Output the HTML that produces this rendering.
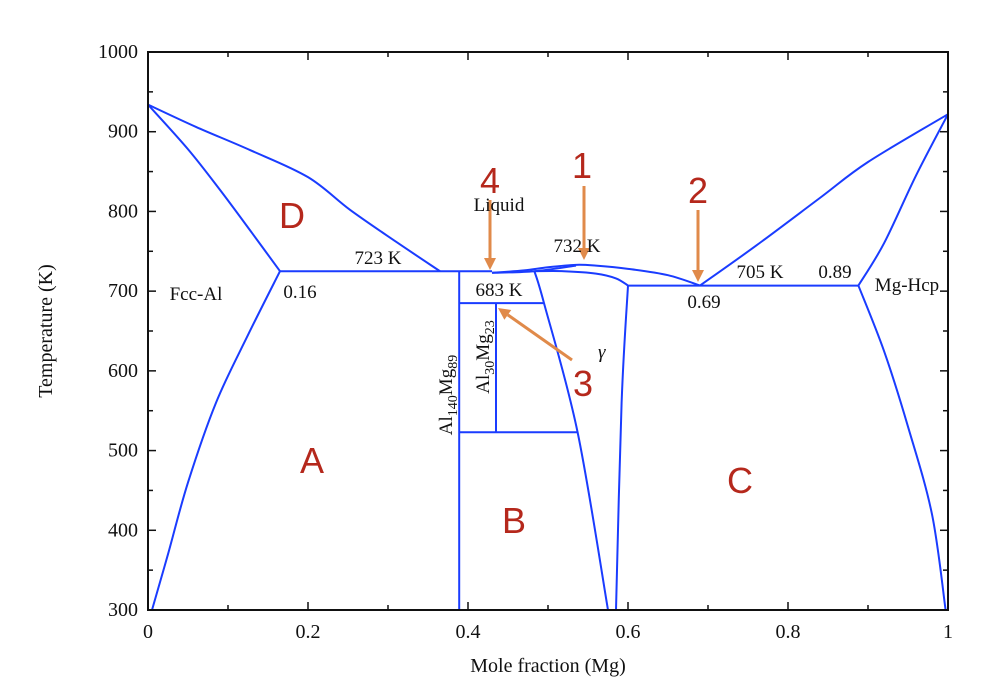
<!DOCTYPE html>
<html><head><meta charset="utf-8"><style>
body{margin:0;background:#fff}
svg{display:block;font-family:"Liberation Serif",serif}
.t{font-size:19px;fill:#111}
.r{font-family:"Liberation Sans",sans-serif;font-size:36px;fill:#b5281c}
</style></head><body>
<svg width="998" height="698" id="s">
<g id="curves" fill="none" stroke="#1a3cff" stroke-width="2"></g>
<g id="axes"></g>
<g id="arrows" stroke="#e08a4a" stroke-width="3" fill="#e08a4a"></g>
<text class="t" x="499" y="211" text-anchor="middle">Liquid</text>
<text class="t" x="378" y="264" text-anchor="middle">723 K</text>
<text class="t" x="300" y="298" text-anchor="middle">0.16</text>
<text class="t" x="196" y="300" text-anchor="middle">Fcc-Al</text>
<text class="t" x="577" y="252" text-anchor="middle">732 K</text>
<text class="t" x="499" y="296" text-anchor="middle">683 K</text>
<text class="t" x="760" y="278" text-anchor="middle">705 K</text>
<text class="t" x="835" y="278" text-anchor="middle">0.89</text>
<text class="t" x="704" y="308" text-anchor="middle">0.69</text>
<text class="t" x="907" y="291" text-anchor="middle">Mg-Hcp</text>
<text class="t" x="598" y="358" font-style="italic">γ</text>
<text class="t" transform="translate(452,395) rotate(-90)" text-anchor="middle">Al<tspan font-size="14" dy="5">140</tspan><tspan dy="-5">Mg</tspan><tspan font-size="14" dy="5">89</tspan></text>
<text class="t" transform="translate(489,357) rotate(-90)" text-anchor="middle">Al<tspan font-size="14" dy="5">30</tspan><tspan dy="-5">Mg</tspan><tspan font-size="14" dy="5">23</tspan></text>
<text class="r" x="292" y="228" text-anchor="middle">D</text>
<text class="r" x="312" y="473" text-anchor="middle">A</text>
<text class="r" x="514" y="533" text-anchor="middle">B</text>
<text class="r" x="740" y="493" text-anchor="middle">C</text>
<text class="r" x="490" y="193" text-anchor="middle">4</text>
<text class="r" x="582" y="178" text-anchor="middle">1</text>
<text class="r" x="698" y="203" text-anchor="middle">2</text>
<text class="r" x="583" y="396" text-anchor="middle">3</text>
<text x="548" y="672" text-anchor="middle" font-size="20" fill="#111">Mole fraction (Mg)</text>
<text transform="translate(52,331) rotate(-90)" text-anchor="middle" font-size="20" fill="#111">Temperature (K)</text>
</svg>
<script>
const xTicks=[0,0.2,0.4,0.6,0.8,1];
const xTickLabels=["0","0.2","0.4","0.6","0.8","1"];
const yTicks=[300,400,500,600,700,800,900,1000];
const liquidusLeft=[[0,934],[0.06,906],[0.1275,877],[0.2,843],[0.2525,802],[0.31,762],[0.365,725]];
const solidusLeft=[[0,934],[0.05,878],[0.09,827],[0.13,773],[0.165,725]];
const solvusLeft=[[0.165,725],[0.125,645],[0.085,560],[0.05,460],[0.025,370],[0.005,300]];
const eutectic723=[[0.165,725],[0.43,725]];
const liquidusMid=[[0.43,723],[0.47,726],[0.5,730],[0.535,733],[0.56,732],[0.6,728],[0.65,720],[0.69,707]];
const gammaTop=[[0.43,723],[0.483,725],[0.535,732]];
const gammaSolidusR=[[0.483,725],[0.52,725],[0.56,722],[0.585,716],[0.6,707]];
const gammaLeft=[[0.483,725],[0.495,685],[0.537,523],[0.575,300]];
const gammaRight=[[0.6,707],[0.592,560],[0.585,300]];
const al140=[[0.389,725],[0.389,300]];
const line683=[[0.389,685],[0.495,685]];
const al30=[[0.435,685],[0.435,523]];
const line523=[[0.389,523],[0.537,523]];
const eutectic705=[[0.6,707],[0.888,707]];
const liquidusRight=[[0.69,707],[0.76,757],[0.84,817],[0.9,862],[1,922]];
const solidusRight=[[0.888,707],[0.92,760],[0.96,845],[1,922]];
const solvusRight=[[0.888,707],[0.92,625],[0.95,530],[0.98,420],[0.997,300]];
const curves=[liquidusLeft,solidusLeft,solvusLeft,eutectic723,liquidusMid,gammaTop,gammaSolidusR,gammaLeft,gammaRight,al140,line683,al30,line523,eutectic705,liquidusRight,solidusRight,solvusRight];
const curveNames=["liquidus-left","solidus-left","solvus-left","eutectic-723k","liquidus-mid","gamma-top","gamma-solidus-right","gamma-left","gamma-right","al140mg89-line","line-683k","al30mg23-line","line-523k","eutectic-705k","liquidus-right","solidus-right","solvus-right"];
const X0=148,X1=948,Y0=610,Y1=52;
const sx=v=>X0+(X1-X0)*v;
const sy=t=>Y0-(Y0-Y1)*(t-300)/700;
const NS="http://www.w3.org/2000/svg";
function mk(tag,attrs,parent){const e=document.createElementNS(NS,tag);for(const k in attrs)e.setAttribute(k,attrs[k]);parent.appendChild(e);return e;}
function smooth(pts){
 let d=`M${pts[0][0]},${pts[0][1]}`;
 for(let i=0;i<pts.length-1;i++){
  const p0=pts[i-1]||pts[i],p1=pts[i],p2=pts[i+1],p3=pts[i+2]||p2;
  const c1=[p1[0]+(p2[0]-p0[0])/6,p1[1]+(p2[1]-p0[1])/6];
  const c2=[p2[0]-(p3[0]-p1[0])/6,p2[1]-(p3[1]-p1[1])/6];
  d+=` C${c1[0]},${c1[1]} ${c2[0]},${c2[1]} ${p2[0]},${p2[1]}`;
 }
 return d;
}
const cg=document.getElementById('curves');
curves.forEach((c,i)=>{
 const p=mk('path',{d:smooth(c.map(d=>[sx(d[0]),sy(d[1])]))},cg);
 
 
});
const ag=document.getElementById('axes');
const fr=mk('rect',{x:X0,y:Y1,width:X1-X0,height:Y0-Y1,fill:'none',stroke:'#111','stroke-width':2},ag);


for(let v=0;v<=1.0001;v+=0.1){const big=Math.round(v*10)%2==0;const L=big?8:5;
 mk('line',{x1:sx(v),x2:sx(v),y1:Y0,y2:Y0-L,stroke:'#111','stroke-width':1.5},ag);
 mk('line',{x1:sx(v),x2:sx(v),y1:Y1,y2:Y1+L,stroke:'#111','stroke-width':1.5},ag);}
for(let t=300;t<=1000;t+=50){const L=t%100==0?8:5;
 mk('line',{x1:X0,x2:X0+L,y1:sy(t),y2:sy(t),stroke:'#111','stroke-width':1.5},ag);
 mk('line',{x1:X1,x2:X1-L,y1:sy(t),y2:sy(t),stroke:'#111','stroke-width':1.5},ag);}
xTicks.forEach((v,i)=>{const t=mk('text',{x:sx(v),y:Y0+28,'text-anchor':'middle','font-size':20,fill:'#111'},ag);t.textContent=xTickLabels[i];
 
 });
yTicks.forEach(v=>{const t=mk('text',{x:X0-10,y:sy(v)+6,'text-anchor':'end','font-size':20,fill:'#111'},ag);t.textContent=v;
 
 });
const arrows=[[490,200,490,270],[584,186,584,260],[698,210,698,282],[572,360,498,308]];
const arg=document.getElementById('arrows');
arrows.forEach(a=>{const [x1,y1,x2,y2]=a;const ang=Math.atan2(y2-y1,x2-x1);const h=12,w=6;
 const bx=x2-h*Math.cos(ang),by=y2-h*Math.sin(ang);
 const g=mk('g',{},arg);
 
 
 mk('line',{x1:x1,y1:y1,x2:bx,y2:by},g);
 mk('polygon',{points:`${x2},${y2} ${bx+w*Math.sin(ang)},${by-w*Math.cos(ang)} ${bx-w*Math.sin(ang)},${by+w*Math.cos(ang)}`,stroke:'none'},g);});
</script>
</body></html>
